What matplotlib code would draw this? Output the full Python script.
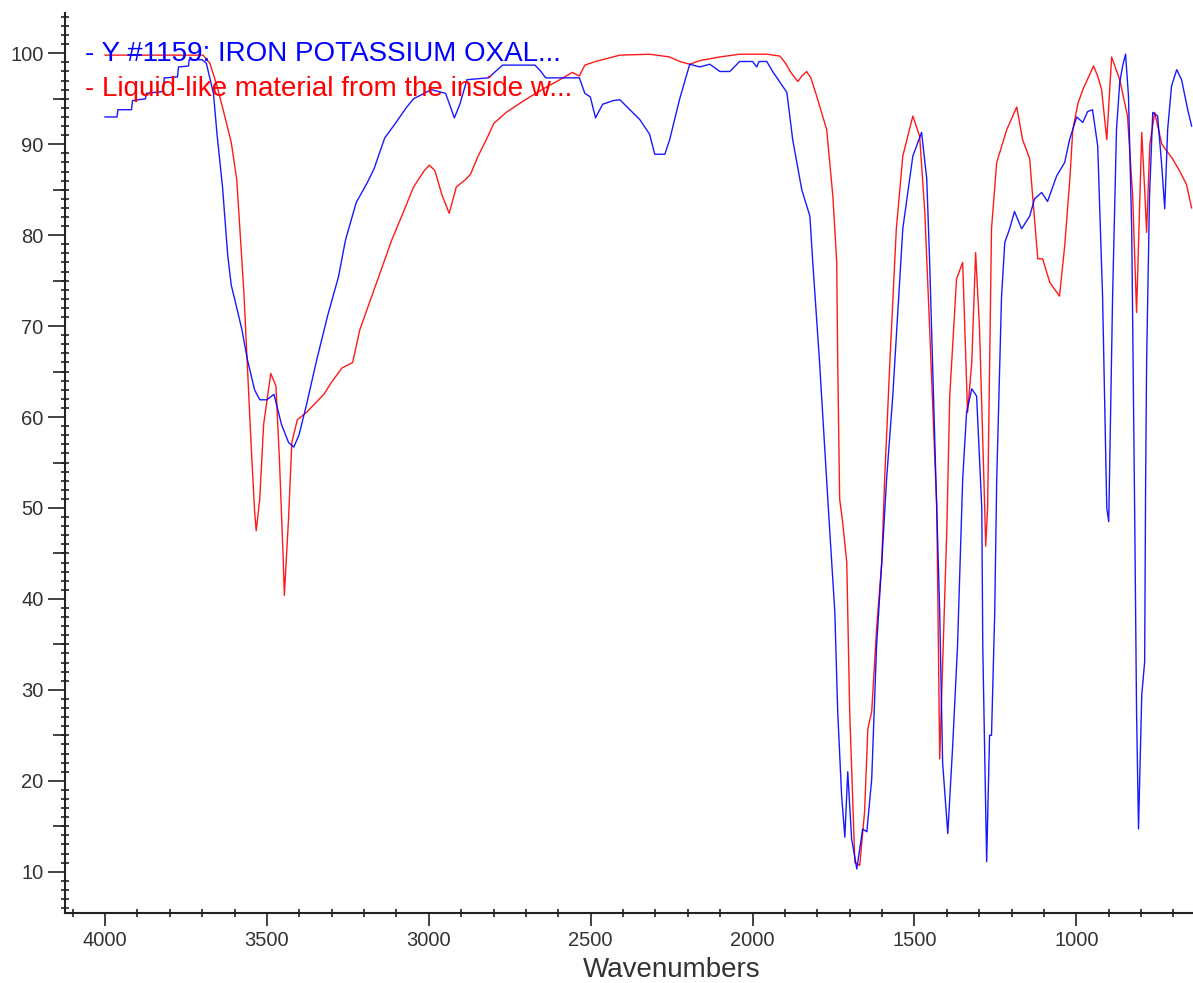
import matplotlib
matplotlib.use("Agg")
import matplotlib.pyplot as plt
import numpy as np

plt.rcParams["font.family"] = ["Liberation Sans", "DejaVu Sans"]

BLUE = "#0000FF"
RED = "#FF0000"
AXIS_GREY = "#222222"
TEXT_GREY = "#333333"

BLUE_LABEL = "- Y #1159: IRON POTASSIUM OXAL..."
RED_LABEL = "- Liquid-like material from the inside w..."

# Y #1159 reference spectrum (wavenumber, %T)
blue_wn = [
    4000, 3963, 3960, 3918, 3915, 3875, 3872, 3820, 3817, 3776, 3773, 3742, 3740,
    3700, 3687, 3665, 3654, 3637, 3621, 3610, 3599, 3577, 3560, 3538, 3522, 3500,
    3478, 3455, 3433, 3417, 3401, 3378, 3346, 3312, 3279, 3257, 3224, 3191, 3169,
    3136, 3103, 3070, 3047, 2992, 2948, 2921, 2904, 2882, 2816, 2772, 2672, 2656,
    2639, 2535, 2518, 2501, 2485, 2463, 2430, 2410, 2379, 2348, 2318, 2302, 2271,
    2256, 2225, 2194, 2163, 2132, 2101, 2070, 2040, 2000, 1987, 1980, 1956, 1938,
    1894, 1876, 1848, 1823, 1814, 1793, 1766, 1746, 1737, 1725, 1715, 1706, 1694,
    1678, 1660, 1647, 1632, 1617, 1601, 1586, 1567, 1536, 1505, 1478, 1462, 1453,
    1431, 1422, 1413, 1397, 1382, 1367, 1351, 1339, 1323, 1308, 1292, 1289, 1277,
    1268, 1262, 1252, 1246, 1231, 1221, 1206, 1191, 1169, 1144, 1129, 1107, 1089,
    1061, 1036, 1021, 999, 980, 965, 950, 934, 919, 906, 900, 888, 876, 866, 857,
    848, 839, 829, 820, 814, 808, 798, 789, 786, 783, 774, 764, 749, 737, 727, 718,
    706, 690, 675, 656, 644,
]
blue_t = [
    93.0, 93.0, 93.8, 93.8, 94.8, 95.0, 95.6, 95.8, 97.3, 97.4, 98.5, 98.6, 99.3,
    99.3, 98.9, 95.6, 91.1, 85.3, 77.8, 74.5, 72.9, 69.6, 66.3, 63.0, 61.9, 61.9,
    62.5, 59.2, 57.2, 56.7, 58.0, 61.3, 66.3, 71.2, 75.4, 79.5, 83.6, 85.7, 87.3,
    90.7, 92.3, 94.0, 95.0, 96.0, 95.6, 92.9, 94.4, 97.1, 97.3, 98.7, 98.7, 98.1,
    97.3, 97.3, 95.6, 95.2, 92.9, 94.4, 94.8, 94.9, 93.8, 92.7, 91.1, 88.9, 88.9,
    90.5, 95.0, 98.8, 98.5, 98.8, 98.0, 98.0, 99.1, 99.1, 98.5, 99.1, 99.1, 98.0,
    95.7, 90.5, 85.0, 82.1, 77.0, 66.0, 50.0, 38.6, 27.6, 18.4, 13.8, 21.0, 13.6,
    10.3, 14.7, 14.4, 20.2, 34.8, 44.0, 53.2, 62.3, 80.7, 88.7, 91.3, 86.2, 77.0,
    50.0, 38.6, 22.0, 14.2, 23.8, 34.8, 53.2, 60.5, 63.1, 62.3, 50.0, 34.8, 11.1,
    25.0, 25.0, 38.6, 53.0, 73.3, 79.2, 80.7, 82.6, 80.7, 82.1, 84.0, 84.7, 83.7,
    86.5, 88.0, 90.5, 93.0, 92.4, 93.6, 93.8, 89.8, 73.3, 50.0, 48.5, 73.3, 91.6,
    96.8, 98.6, 99.9, 95.3, 80.7, 50.0, 27.6, 14.7, 29.4, 33.1, 53.0, 66.0, 84.3,
    93.5, 93.1, 88.0, 82.9, 91.6, 96.4, 98.2, 97.1, 93.8, 92.0,
]

# Liquid-like material sample spectrum (wavenumber, %T)
red_wn = [
    4000, 3697, 3676, 3654, 3633, 3610, 3593, 3582, 3571, 3560, 3549, 3538, 3533,
    3522, 3510, 3488, 3472, 3461, 3450, 3446, 3433, 3423, 3406, 3378, 3324, 3301,
    3268, 3235, 3213, 3180, 3147, 3114, 3080, 3047, 3014, 2998, 2981, 2960, 2937,
    2915, 2887, 2871, 2849, 2821, 2799, 2761, 2706, 2651, 2595, 2557, 2535, 2518,
    2485, 2410, 2318, 2256, 2225, 2194, 2163, 2101, 2040, 1956, 1916, 1900, 1880,
    1860, 1848, 1833, 1820, 1802, 1771, 1752, 1740, 1737, 1731, 1722, 1709, 1700,
    1684, 1669, 1654, 1644, 1632, 1617, 1601, 1592, 1576, 1556, 1536, 1505, 1484,
    1468, 1453, 1431, 1422, 1400, 1391, 1370, 1351, 1336, 1323, 1311, 1299, 1283,
    1280, 1274, 1262, 1246, 1215, 1184, 1166, 1144, 1135, 1119, 1104, 1082, 1052,
    1036, 1020, 1011, 995, 980, 947, 934, 922, 906, 891, 866, 842, 826, 814, 798,
    789, 783, 773, 758, 736, 703, 680, 660, 644,
]
red_t = [
    99.8, 99.8, 98.9, 96.4, 93.5, 90.2, 86.1, 79.9, 73.7, 65.4, 57.2, 49.7, 47.5,
    51.0, 59.2, 64.8, 63.4, 55.1, 44.8, 40.4, 48.9, 57.2, 59.7, 60.5, 62.5, 63.8,
    65.4, 66.0, 69.6, 72.9, 76.2, 79.5, 82.4, 85.3, 87.1, 87.7, 87.1, 84.5, 82.4,
    85.3, 86.1, 86.7, 88.6, 90.6, 92.3, 93.5, 94.8, 96.0, 97.1, 97.9, 97.5, 98.7,
    99.1, 99.8, 99.9, 99.6, 99.1, 98.8, 99.2, 99.6, 99.9, 99.9, 99.7, 99.0, 97.8,
    96.9, 97.5, 98.0, 97.3, 95.3, 91.6, 84.3, 77.0, 66.0, 51.0, 48.5, 44.0, 27.6,
    11.0, 10.7, 16.6, 25.7, 27.6, 36.7, 44.0, 53.2, 66.0, 80.7, 88.7, 93.1, 90.9,
    82.5, 69.7, 50.0, 22.4, 47.7, 62.3, 75.2, 77.0, 60.5, 66.0, 78.1, 69.7, 50.0,
    45.8, 50.0, 80.7, 88.0, 91.6, 94.1, 90.5, 88.4, 84.3, 77.4, 77.4, 74.8, 73.3,
    78.8, 86.2, 91.6, 94.5, 96.0, 98.6, 97.5, 96.0, 90.5, 99.6, 97.1, 93.1, 84.3,
    71.5, 91.3, 85.0, 80.3, 90.0, 93.5, 90.0, 88.4, 87.0, 85.6, 83.0,
]

X_LIMITS = (4123.5, 639.7)
Y_LIMITS = (5.43, 104.4)

fig = plt.figure(figsize=(11.93, 9.83), dpi=100, facecolor="white")
ax = fig.add_axes([65 / 1193, 1 - 913.3 / 983, 1 - 65 / 1193, 900 / 983])

ax.plot(blue_wn, blue_t, color=BLUE, lw=1.0, alpha=0.9, zorder=3)
ax.plot(red_wn, red_t, color=RED, lw=1.0, alpha=0.9, zorder=2)

ax.set_xlim(*X_LIMITS)
ax.set_ylim(*Y_LIMITS)

for side in ("top", "right"):
    ax.spines[side].set_visible(False)
for side in ("left", "bottom"):
    ax.spines[side].set_color(AXIS_GREY)
    ax.spines[side].set_linewidth(1.5)

ax.set_xticks(np.arange(1000, 4001, 500))
ax.set_xticks(np.arange(700, 4101, 100), minor=True)
ax.set_yticks(np.arange(10, 101, 10))
ax.set_yticks(np.arange(6, 105, 1), minor=True)

ax.tick_params(axis="both", which="major", colors=AXIS_GREY, labelcolor=TEXT_GREY,
               labelsize=14.5, width=1.2)
ax.tick_params(axis="x", which="major", direction="out", length=9.5, pad=3)
ax.tick_params(axis="y", which="major", direction="out", length=12, pad=3.5)
ax.tick_params(axis="both", which="minor", direction="inout", length=6,
               width=1.2, colors=AXIS_GREY)

# medium ticks on the 5s
mid = ax.secondary_yaxis("left")
mid.set_yticks(np.arange(15, 100, 10))
mid.tick_params(direction="out", length=8.5, width=1.2, colors=AXIS_GREY,
                labelleft=False)
mid.spines["left"].set_visible(False)

ax.set_xlabel("Wavenumbers", fontsize=20, color=TEXT_GREY)
ax.xaxis.set_label_coords(0.538, -0.049)

fig.text(85 / 1193, 1 - 54 / 983, BLUE_LABEL, color=BLUE, fontsize=20,
         va="center", ha="left")
fig.text(85 / 1193, 1 - 89 / 983, RED_LABEL, color=RED, fontsize=20,
         va="center", ha="left")

fig.savefig("out.png", dpi=100, facecolor="white")
